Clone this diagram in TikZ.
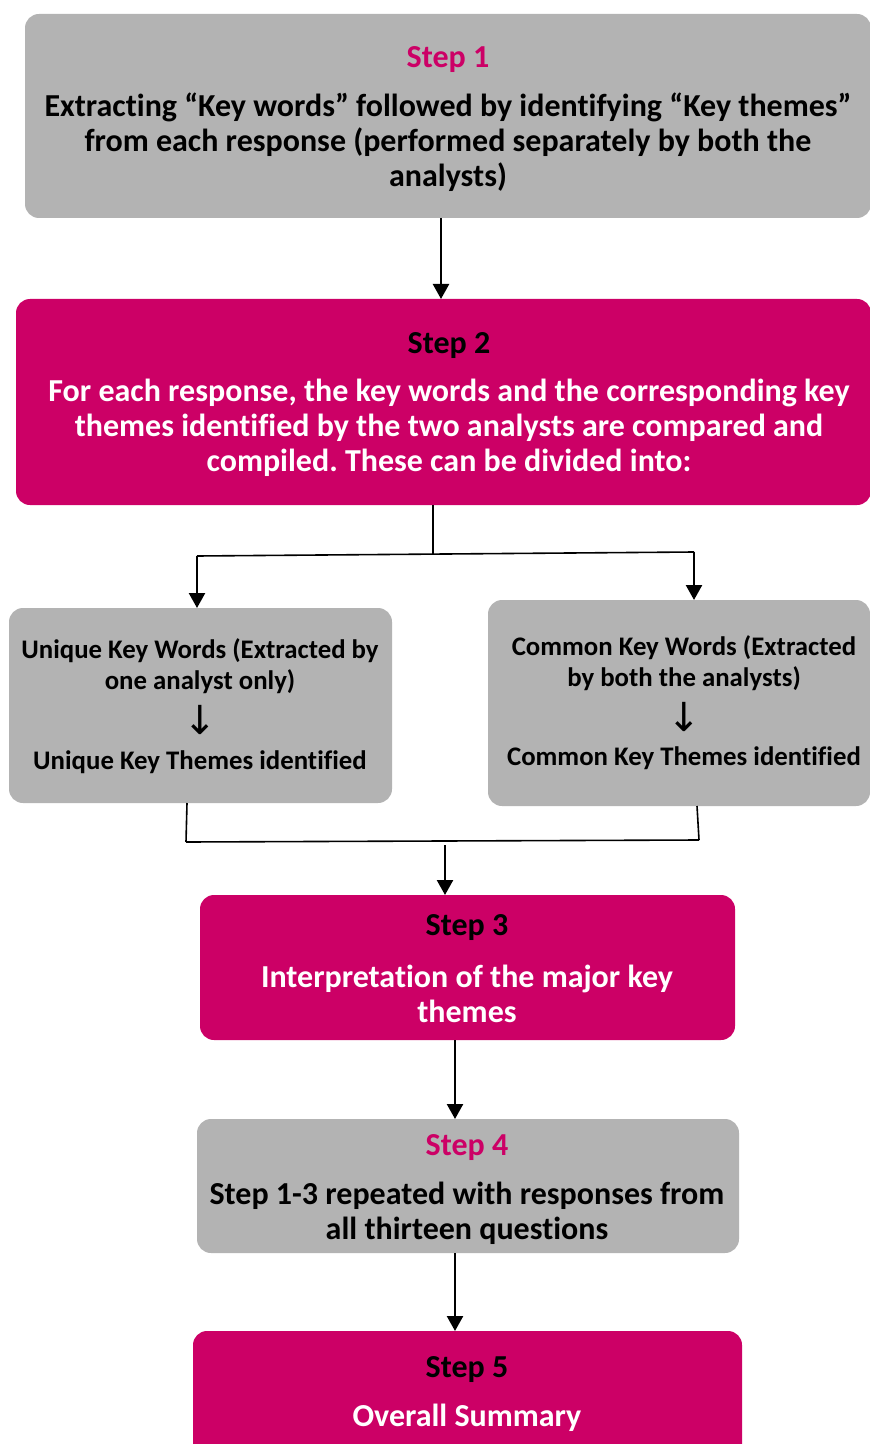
\documentclass[tikz,border=0pt]{standalone}
\usepackage{fontspec}
\setmainfont{Carlito}[Ligatures=NoCommon]
\newfontfamily\arrowfont{DejaVu Sans}
\usetikzlibrary{arrows.meta,fit}
\definecolor{stepgray}{RGB}{179,179,179}
\definecolor{stepmag}{RGB}{204,0,102}
\frenchspacing

\begin{document}
\begin{tikzpicture}[x=0.5pt,y=-0.5pt,
  panel/.style={rounded corners=7pt, inner sep=0pt, outer sep=0pt, draw=none},
  graypanel/.style={panel, fill=stepgray},
  magpanel/.style={panel, fill=stepmag},
  steptitle/.style={font=\fontsize{16}{18}\selectfont\bfseries, inner sep=0pt},
  stepbody/.style={font=\fontsize{16}{17.5}\selectfont\bfseries, align=center, inner sep=0pt},
  subbody/.style={font=\fontsize{13.4}{15.5}\selectfont\bfseries, align=center, inner sep=0pt},
  downsign/.style={font=\fontsize{20}{20}\arrowfont\mdseries, inner sep=0pt},
  flow/.style={line width=1.2pt, -{Triangle[width=8pt,length=7.5pt]}},
  link/.style={line width=0.8pt}]

\clip (0,0) rectangle (870,1444);
\useasboundingbox (0,0) rectangle (870,1444);

% ---- panels ----
\node[graypanel, fit={(25,14) (871,218)}] (s1) {};
\node[magpanel,  fit={(16,299) (871,505)}] (s2) {};
\node[graypanel, fit={(9,608) (392,803)}] (uq) {};
\node[graypanel, fit={(488,600) (870,806)}] (cm) {};
\node[magpanel,  fit={(200,895) (735,1040)}] (s3) {};
\node[graypanel, fit={(197,1119) (739,1253)}] (s4) {};
\node[magpanel,  fit={(193,1331) (742,1470)}] (s5) {};

% ---- texts ----
\node[steptitle, text=stepmag] (t1) at (448,60) {Step 1};
\node[stepbody] (b1) at (448,142) {Extracting “Key words” followed by identifying “Key themes”\\from each response (performed separately by both the\\analysts)};

\node[steptitle] (t2) at (449,346) {Step 2};
\node[stepbody, text=white] (b2) at (449,428) {For each response, the key words and the corresponding key\\themes identified by the two analysts are compared and\\compiled. These can be divided into:};

\node[subbody] (uqa) at (200,666) {Unique Key Words (Extracted by\\one analyst only)};
\node[downsign] (uqb) at (200,720) {↓};
\node[subbody] (uqc) at (200,762) {Unique Key Themes identified};

\node[subbody] (cma) at (684,663) {Common Key Words (Extracted\\by both the analysts)};
\node[downsign] (cmb) at (684,717) {↓};
\node[subbody] (cmc) at (684,758) {Common Key Themes identified};

\node[steptitle] (t3) at (467,928) {Step 3};
\node[stepbody, text=white] (b3) at (467,994) {Interpretation of the major key\\themes};

\node[steptitle, text=stepmag] (t4) at (467,1148) {Step 4};
\node[stepbody] (b4) at (467,1213) {Step 1-3 repeated with responses from\\all thirteen questions};

\node[steptitle] (t5) at (467,1370) {Step 5};
\node[stepbody, text=white] (b5) at (467,1418) {Overall Summary};

% ---- connectors ----
\coordinate (x1) at (441,0);
\draw[flow] (s1.south -| x1) -- (s2.north -| x1);

\coordinate (x2) at (433,0);
\coordinate (sl) at (197,556);
\coordinate (sr) at (694,552);
\draw[link] (s2.south -| x2) -- (433,554);
\draw[link] (sl) -- (sr);
\draw[flow] (sl) -- (uq.north -| sl);
\draw[flow] (sr) -- (cm.north -| sr);

\coordinate (ml) at (186,842);
\coordinate (mr) at (699,840);
\coordinate (x3) at (187,0);
\coordinate (x4) at (697,0);
\draw[link] (uq.south -| x3) -- (ml);
\draw[link] (cm.south -| x4) -- (mr);
\draw[link] (ml) -- (mr);
\coordinate (x5) at (445,845);
\draw[flow] (x5) -- (s3.north -| x5);

\coordinate (x6) at (455,0);
\draw[flow] (s3.south -| x6) -- (s4.north -| x6);
\draw[flow] (s4.south -| x6) -- (s5.north -| x6);
\end{tikzpicture}
\end{document}
